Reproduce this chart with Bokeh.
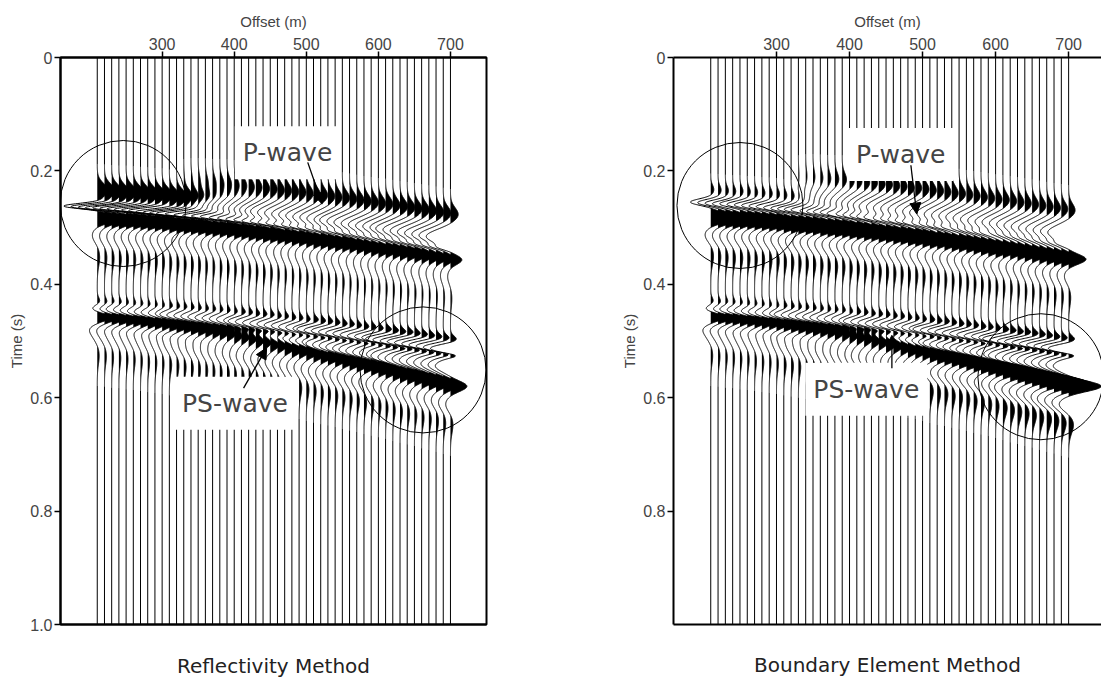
import numpy as np
from bokeh.plotting import figure
from bokeh.layouts import row
from bokeh.models import (Range1d, FixedTicker, LinearAxis, Label, Arrow,
                          NormalHead)
from bokeh.embed import file_html
from bokeh.resources import INLINE

# ---------------------------------------------------------------- data
# receiver offsets (m), one wiggle trace each
OFFSETS = [210, 220, 230, 240, 250, 260, 270, 280, 290, 300,
           310, 320, 330, 340, 350, 360, 370, 380, 390, 400,
           410, 420, 430, 440, 450, 460, 470, 480, 490, 500,
           510, 520, 530, 540, 550, 560, 570, 580, 590, 600,
           610, 620, 630, 640, 650, 660, 670, 680, 690, 700]

# P arrival picks (s), time of the trough
REFL_P_T = [0.262, 0.263, 0.264, 0.265, 0.265, 0.266, 0.267, 0.268, 0.269, 0.270,
            0.272, 0.273, 0.274, 0.275, 0.276, 0.278, 0.279, 0.280, 0.281, 0.283,
            0.284, 0.286, 0.287, 0.289, 0.290, 0.292, 0.293, 0.295, 0.296, 0.298,
            0.300, 0.301, 0.303, 0.305, 0.306, 0.308, 0.310, 0.312, 0.314, 0.316,
            0.317, 0.319, 0.321, 0.323, 0.325, 0.327, 0.329, 0.331, 0.333, 0.335]
BEM_P_T = [0.255, 0.256, 0.257, 0.258, 0.258, 0.259, 0.260, 0.261, 0.262, 0.263,
           0.265, 0.266, 0.267, 0.268, 0.269, 0.271, 0.272, 0.273, 0.274, 0.276,
           0.277, 0.279, 0.280, 0.282, 0.283, 0.285, 0.286, 0.288, 0.289, 0.291,
           0.293, 0.294, 0.296, 0.298, 0.299, 0.301, 0.303, 0.305, 0.307, 0.309,
           0.310, 0.312, 0.314, 0.316, 0.318, 0.320, 0.322, 0.324, 0.326, 0.328]

# PS picks (s): early branch (trough) and main branch (peak)
PS_A_T = [0.444, 0.445, 0.445, 0.446, 0.447, 0.448, 0.449, 0.450, 0.451, 0.452,
          0.453, 0.454, 0.455, 0.456, 0.457, 0.458, 0.459, 0.460, 0.461, 0.463,
          0.464, 0.465, 0.467, 0.468, 0.469, 0.471, 0.472, 0.474, 0.475, 0.477,
          0.478, 0.480, 0.481, 0.483, 0.485, 0.486, 0.488, 0.490, 0.491, 0.493,
          0.495, 0.497, 0.499, 0.500, 0.502, 0.504, 0.506, 0.508, 0.510, 0.512]
PS_B_T = [0.458, 0.459, 0.461, 0.462, 0.464, 0.465, 0.467, 0.469, 0.470, 0.472,
          0.474, 0.476, 0.478, 0.480, 0.482, 0.484, 0.486, 0.488, 0.490, 0.493,
          0.495, 0.497, 0.500, 0.502, 0.505, 0.507, 0.510, 0.513, 0.515, 0.518,
          0.521, 0.524, 0.526, 0.529, 0.532, 0.535, 0.538, 0.541, 0.544, 0.547,
          0.550, 0.554, 0.557, 0.560, 0.563, 0.567, 0.570, 0.573, 0.577, 0.580]

# amplitudes in units of trace spacing
REFL_P_SPIKE = [4.8] * 14 + [4.5, 4.2, 3.9, 3.6, 3.3, 3.0, 2.8, 2.6, 2.4,
                             2.2, 2.0, 1.9, 1.8, 1.7, 1.6, 1.5, 1.4, 1.3,
                             1.2, 1.2, 1.1, 1.1] + [1.0] * 14
REFL_P_BROAD = [0.0] * 12 + [0.3, 0.6, 0.9, 1.2, 1.5, 1.8, 2.0, 2.2, 2.4, 2.6,
                             2.8, 3.0] + [3.2] * 10 + [3.4] * 8 + [3.6] * 8
REFL_P_LOBE = [2.8] * 15 + [2.5] * 10 + [2.2] * 10 + [1.9] * 10 + [1.6] * 5
REFL_PS_A = [1.2] * 10 + [1.6] * 10 + [2.0] * 10 + [2.5] * 10 + [3.0] * 10
REFL_PS_B = [1.8] * 10 + [2.2] * 10 + [2.5] * 20 + [2.3] * 10

BEM_P_SPIKE = ([2.8] * 15 + [2.5] * 5 + [2.2] * 5 + [1.9] * 5 + [1.6] * 5
               + [1.3] * 5 + [1.0] * 10)
BEM_P_BROAD = [0.0] * 12 + [0.3, 0.6, 0.9, 1.2, 1.5, 1.8, 2.0, 2.2, 2.4, 2.6,
                            2.8, 3.0] + [3.0] * 26
BEM_P_LOBE = [3.2] * 20 + [3.0] * 10 + [2.7] * 10 + [2.4] * 10
BEM_PS_A = [1.2] * 10 + [1.6] * 10 + [2.0] * 10 + [2.5] * 10 + [3.0] * 10
BEM_PS_B = [1.8] * 10 + [2.2] * 10 + [2.6] * 10 + [3.2] * 10 + [4.0] * 6 + [4.5] * 4

# circled areas (offset m, time s)
REFL_CIRCLES = ([246, 662], [0.2575, 0.551])
BEM_CIRCLES = ([250, 662], [0.261, 0.563])

# ---------------------------------------------------------------- wavelets
SPACING = 10.0  # m between traces
T = np.linspace(0.0, 1.0, 2001)

# (time shift, width, amplitude key, factor)
REFL_P_SHAPE = [(-0.028, 0.012, "spike", 0.3), (0.0, 0.0045, "spike", -1.0),
                (-0.058, 0.012, "broad", 0.3), (-0.020, 0.012, "broad", -1.0),
                (0.022, 0.008, "lobe", 1.0), (0.052, 0.012, "lobe", -0.25),
                (0.090, 0.016, "lobe", 0.12)]
BEM_P_SHAPE = [(-0.022, 0.008, "spike", 0.15), (0.0, 0.0055, "spike", -1.0),
               (-0.058, 0.012, "broad", 0.3), (-0.020, 0.012, "broad", -1.0),
               (0.028, 0.0085, "lobe", 1.0), (0.058, 0.012, "lobe", -0.25),
               (0.095, 0.016, "lobe", 0.12)]
# (time shift, width, factor)
PS_A_SHAPE = [(-0.012, 0.007, 0.4), (0.0, 0.007, -1.0),
              (0.014, 0.004, 0.5), (0.032, 0.010, -0.7)]
PS_B_SHAPE = [(0.0, 0.009, 1.0), (0.032, 0.012, -0.3), (0.067, 0.016, 0.15)]


def g(c, s):
    return np.exp(-0.5 * ((T - c) / s) ** 2)


def trace(k, panel):
    w = np.zeros_like(T)
    amps = {"spike": panel["spike"][k], "broad": panel["broad"][k],
            "lobe": panel["lobe"][k]}
    for c, s, key, f in panel["p_shape"]:
        w += f * amps[key] * g(panel["p_t"][k] + c, s)
    for c, s, f in PS_A_SHAPE:
        w += f * panel["ps_a"][k] * g(PS_A_T[k] + c, s)
    for c, s, f in PS_B_SHAPE:
        w += f * panel["ps_b"][k] * g(PS_B_T[k] + c, s)
    return w


def thin(w):
    keep = np.abs(w) > 1e-3
    keep = keep | np.roll(keep, 1) | np.roll(keep, -1)
    keep[0] = keep[-1] = True
    return keep


def style_axis(ax):
    ax.axis_line_width = 2
    ax.major_tick_line_width = 1.5
    ax.major_tick_out = 6
    ax.major_tick_in = 0
    ax.minor_tick_line_color = None
    ax.major_label_text_font = "Liberation Sans"
    ax.major_label_text_font_size = "16px"
    ax.major_label_standoff = 2
    ax.axis_label_text_font = "Liberation Sans"
    ax.axis_label_text_font_size = "15px"
    ax.axis_label_text_font_style = "normal"


def panel_figure(panel):
    p = figure(width=panel["width"], height=683,
               x_range=Range1d(*panel["xr"]), y_range=Range1d(1.0, 0.0),
               x_axis_location="above", output_backend="svg",
               toolbar_location=None,
               min_border_left=panel["left"], min_border_right=panel["right"],
               min_border_top=57, min_border_bottom=panel["bottom"])
    p.xgrid.visible = False
    p.ygrid.visible = False
    p.background_fill_color = "white"
    p.border_fill_color = "white"

    xs_fill, ys_fill, xs_line, ys_line = [], [], [], []
    for k, off in enumerate(OFFSETS):
        w = trace(k, panel)
        keep = thin(w)
        xs_line.append(off + SPACING * w[keep])
        ys_line.append(T[keep])
        xs_fill.append(off + SPACING * np.maximum(w[keep], 0.0))
        ys_fill.append(T[keep])
    p.patches(xs_fill, ys_fill, fill_color="black", line_color=None)
    p.multi_line(xs_line, ys_line, line_color="black", line_width=1)

    cx, cy = panel["circles"]
    p.scatter(cx, cy, marker="circle", size=126, fill_color=None,
              line_color="black", line_width=1)

    xa = p.xaxis[0]
    xa.axis_label = "Offset (m)"
    xa.ticker = FixedTicker(ticks=[300, 400, 500, 600, 700])
    style_axis(xa)
    ya = p.yaxis[0]
    ya.axis_label = "Time (s)"
    ya.ticker = FixedTicker(ticks=panel["yticks"])
    ya.major_label_overrides = {0: "0", 1: "1.0"}
    ya.axis_label_standoff = 2
    style_axis(ya)

    p.outline_line_color = "black" if panel["box"] else None
    p.outline_line_width = 2

    # bottom frame line, carrying the method name underneath
    ttl, standoff = panel["title"]
    bottom = LinearAxis(ticker=FixedTicker(ticks=[]),
                        major_label_text_font_size="0px",
                        major_tick_in=0, major_tick_out=0,
                        axis_label=ttl, axis_label_standoff=standoff,
                        axis_label_text_font="DejaVu Sans",
                        axis_label_text_font_size="20px",
                        axis_label_text_font_style="normal",
                        axis_label_text_color="#222222")
    bottom.axis_line_width = 2
    p.add_layout(bottom, "below")

    for (lx, ly, txt) in panel["labels"]:
        p.add_layout(Label(x=lx, y=ly, text=txt, text_align="center",
                           text_baseline="middle",
                           text_font="DejaVu Sans",
                           text_font_size="25px",
                           background_fill_color="white",
                           padding=(8, 12)))
    for (x0, y0, x1, y1) in panel["arrows"]:
        p.add_layout(Arrow(end=NormalHead(size=11, fill_color="black",
                                          line_color="black", line_width=1),
                           x_start=x0, y_start=y0, x_end=x1, y_end=y1,
                           line_color="black", line_width=1.3))
    return p


refl = dict(width=600, xr=(159, 750), left=60, right=114, bottom=59,
            p_t=REFL_P_T, spike=REFL_P_SPIKE, broad=REFL_P_BROAD,
            lobe=REFL_P_LOBE, p_shape=REFL_P_SHAPE,
            ps_a=REFL_PS_A, ps_b=REFL_PS_B,
            circles=REFL_CIRCLES, yticks=[0, 0.2, 0.4, 0.6, 0.8, 1.0], box=True,
            labels=[(474, 0.168, "P-wave"), (401, 0.610, "PS-wave")],
            arrows=[(502, 0.185, 522, 0.258), (413, 0.583, 445, 0.512)],
            title=("Reflectivity Method", 29))
bem = dict(width=501, xr=(159, 745), left=73, right=0, bottom=52,
           p_t=BEM_P_T, spike=BEM_P_SPIKE, broad=BEM_P_BROAD,
           lobe=BEM_P_LOBE, p_shape=BEM_P_SHAPE,
           ps_a=BEM_PS_A, ps_b=BEM_PS_B,
           circles=BEM_CIRCLES, yticks=[0, 0.2, 0.4, 0.6, 0.8], box=False,
           labels=[(470, 0.171, "P-wave"), (423, 0.585, "PS-wave")],
           arrows=[(484, 0.190, 492, 0.276), (458, 0.548, 458, 0.490)],
           title=("Boundary Element Method", 28))

layout = row(panel_figure(refl), panel_figure(bem))
open("out.html", "w").write(file_html(layout, INLINE))
